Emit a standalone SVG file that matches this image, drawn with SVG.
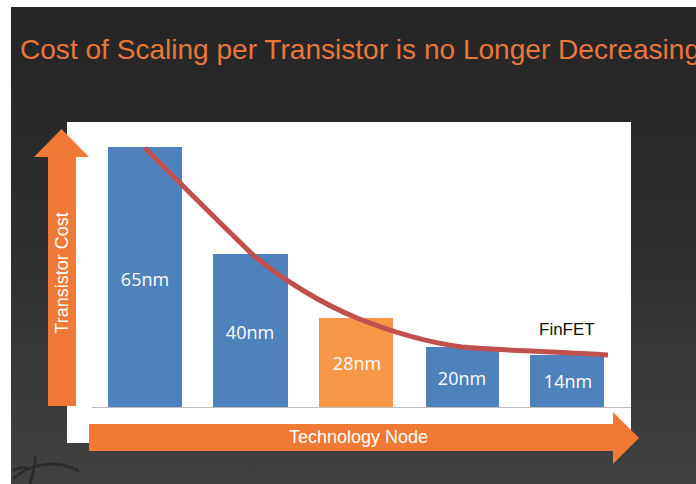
<svg xmlns="http://www.w3.org/2000/svg" width="696" height="484" viewBox="0 0 696 484">
  <defs>
    <linearGradient id="bg" x1="0" y1="0" x2="0" y2="1">
      <stop offset="0" stop-color="#252525"/>
      <stop offset="0.5" stop-color="#2e2e2e"/>
      <stop offset="1" stop-color="#414141"/>
    </linearGradient>
    <style>
      .bar { fill: #4F81BD; }
      .bar-hi { fill: #F79646; }
      .lbl { font-family: "Open Sans", "DejaVu Sans", sans-serif; font-size: 18px; fill: #ffffff; text-anchor: middle; }
      .arrow { fill: #F07A35; }
      .axis-txt { font-family: "Liberation Sans", Arial, sans-serif; font-size: 18px; fill: #ffffff; }
      .deco { fill: none; stroke: #2a2a2a; stroke-width: 3; stroke-dasharray: 2.5 3; stroke-linecap: round; }
    </style>
  </defs>

  <!-- page -->
  <rect x="0" y="0" width="696" height="484" fill="#ffffff"/>
  <rect x="11" y="7" width="685" height="477" fill="url(#bg)"/>

  <!-- faint globe ornament, lower left -->
  <g id="ornament">
    <path class="deco" d="M14,478 C30,464 58,458 80,472"/>
    <path class="deco" d="M30,484 C33,472 36,464 35,457"/>
    <path class="deco" d="M14,470 C19,467 24,467 28,469"/>
  </g>

  <!-- title -->
  <text id="title" x="20" y="59" font-family="Liberation Sans, Arial, sans-serif" font-size="28" fill="#E8773A" textLength="680" lengthAdjust="spacingAndGlyphs">Cost of Scaling per Transistor is no Longer Decreasing</text>

  <!-- chart panel -->
  <rect id="panel" x="67" y="122" width="564" height="321" fill="#ffffff"/>

  <!-- baseline -->
  <line x1="92" y1="407.5" x2="631" y2="407.5" stroke="#bdbdbd" stroke-width="1"/>

  <!-- bars -->
  <g id="bar-65nm">
    <rect class="bar" x="108" y="147" width="74" height="260"/>
    <text class="lbl" x="145" y="286">65nm</text>
  </g>
  <g id="bar-40nm">
    <rect class="bar" x="213" y="254" width="75" height="153"/>
    <text class="lbl" x="250" y="339">40nm</text>
  </g>
  <g id="bar-28nm">
    <rect class="bar-hi" x="319" y="318" width="74" height="89"/>
    <text class="lbl" x="357" y="370">28nm</text>
  </g>
  <g id="bar-20nm">
    <rect class="bar" x="426" y="347" width="73" height="60"/>
    <text class="lbl" x="462" y="385">20nm</text>
  </g>
  <g id="bar-14nm">
    <rect class="bar" x="530" y="355" width="74" height="52"/>
    <text class="lbl" x="568" y="388">14nm</text>
  </g>

  <!-- cost trend line -->
  <g id="connectors">
    <path d="M145,148 C185,188 225,228 252,254 C280,278 322,304 357,318 C392,332 432,343 462,347 C510,351 570,352 608,355" fill="none" stroke="#C0504D" stroke-width="5" stroke-linecap="butt" stroke-linejoin="round"/>
  </g>

  <g id="finfet-label">
    <text x="539" y="335" font-family="Liberation Sans, Arial, sans-serif" font-size="17" fill="#111111">FinFET</text>
  </g>

  <!-- vertical axis arrow -->
  <g id="axis-cost">
    <polygon class="arrow" points="48,406 48,157 34,157 61.5,129 89,157 76,157 76,406"/>
    <text class="axis-txt" transform="translate(68,273) rotate(-90)" text-anchor="middle">Transistor Cost</text>
  </g>

  <!-- horizontal axis arrow -->
  <g id="axis-node">
    <polygon class="arrow" points="89,424 613,424 613,412 639,438 613,464 613,451 89,451"/>
    <text class="axis-txt" x="289" y="443">Technology Node</text>
  </g>
</svg>
